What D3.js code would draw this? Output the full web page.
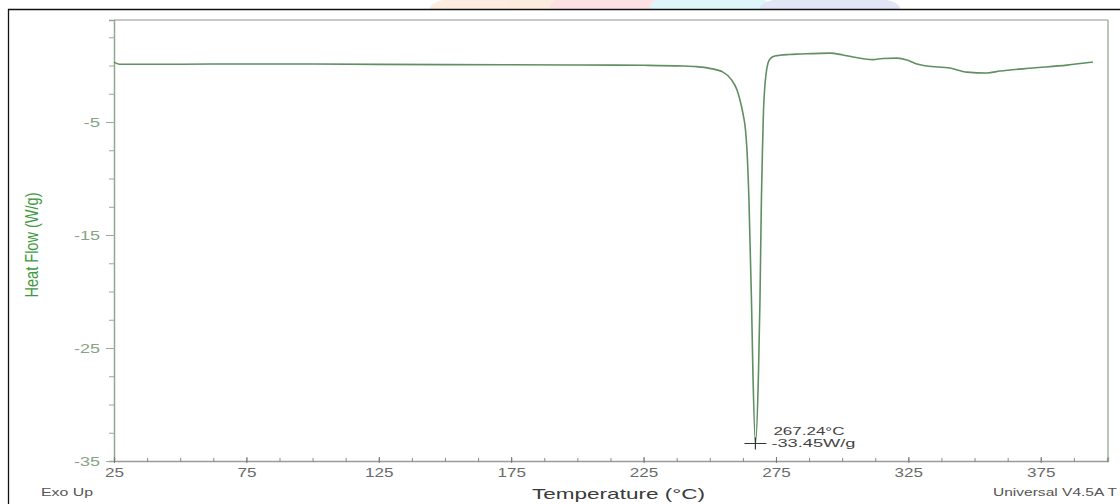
<!DOCTYPE html>
<html>
<head>
<meta charset="utf-8">
<script src="https://cdn.jsdelivr.net/npm/d3@7"></script>
<style>
  html, body { margin: 0; padding: 0; background: #fff; }
  svg { display: block; }
  text { font-family: "Liberation Sans", Arial, sans-serif; }
</style>
</head>
<body>
<svg id="chart" width="1120" height="504"></svg>
<script>
// DSC scan: temperature (°C) and heat flow (W/g)
const temperature = [25, 27, 50, 75, 100, 125, 150, 175, 200, 225, 240, 245, 250, 255, 258, 260.3, 261.4, 262.5, 263.5, 264.05, 264.8, 265.75, 266.3, 267.24, 268.4, 268.96, 269.5, 269.9, 270.3, 270.7, 271.2, 272, 273.1, 274.6, 280, 284, 295.4, 300.3, 304.1, 308, 311.6, 315.4, 320.7, 324.5, 328.2, 332, 340.7, 347.1, 354.7, 359.6, 372.1, 384.9, 394.7];
const heatFlow    = [0.3, 0.12, 0.12, 0.14, 0.13, 0.1, 0.08, 0.07, 0.05, 0.02, -0.04, -0.1, -0.25, -0.58, -1.2, -2.17, -3.05, -4.2, -5.71, -7.48, -11.9, -20.75, -27.2, -33.45, -27.2, -20.75, -11.9, -7.48, -3.94, -2.17, -0.84, 0.22, 0.66, 0.84, 0.98, 1.02, 1.1, 0.93, 0.75, 0.6, 0.52, 0.62, 0.66, 0.49, 0.13, -0.04, -0.22, -0.58, -0.66, -0.49, -0.22, 0.04, 0.31];

const xMajorTicks = [25, 75, 125, 175, 225, 275, 325, 375];
const yMajorTicks = [-35, -25, -15, -5];
const peak = { t: 267.24, v: -33.45, tLabel: "267.24°C", vLabel: "-33.45W/g" };

const svg = d3.select("#chart");
const W = 1120, H = 504;
const plot = { left: 114, right: 1108, top: 20, bottom: 461 };

const x = d3.scaleLinear().domain([25, 400.4]).range([plot.left, plot.right]);
const y = d3.scaleLinear().domain([-35, 4.03]).range([plot.bottom, plot.top]);
const plain = d => String(d);

// faint page background marks above the frame
const wm = svg.append("g").attr("opacity", 0.2);
wm.append("ellipse").attr("cx", 500).attr("cy", 8).attr("rx", 70).attr("ry", 14).attr("fill", "#f5a25d");
wm.append("ellipse").attr("cx", 610).attr("cy", 6).attr("rx", 60).attr("ry", 14).attr("fill", "#f26b7a");
wm.append("ellipse").attr("cx", 710).attr("cy", 6).attr("rx", 60).attr("ry", 14).attr("fill", "#5fd3e6");
wm.append("ellipse").attr("cx", 830).attr("cy", 8).attr("rx", 70).attr("ry", 14).attr("fill", "#6f7fd0");
svg.append("rect").attr("x", 0).attr("y", 9).attr("width", W).attr("height", H).attr("fill", "#fff");

// outer frame
svg.append("line").attr("x1", 8).attr("x2", W).attr("y1", 9.5).attr("y2", 9.5).attr("stroke", "#111").attr("stroke-width", 1.3);
svg.append("line").attr("x1", 8.5).attr("x2", 8.5).attr("y1", 9).attr("y2", H).attr("stroke", "#111").attr("stroke-width", 1.3);

// plot box: top and right edges
svg.append("line").attr("x1", plot.left).attr("x2", plot.right).attr("y1", plot.top).attr("y2", plot.top)
  .attr("stroke", "#c8c8c8").attr("stroke-width", 2);
svg.append("line").attr("x1", plot.right).attr("x2", plot.right).attr("y1", plot.top).attr("y2", plot.bottom)
  .attr("stroke", "#9bb89b").attr("stroke-width", 1.5);

// y axis
const yMinor = d3.range(-35, 4, 2.5);
const gy = svg.append("g").attr("transform", `translate(${plot.left},0)`)
  .call(d3.axisLeft(y).tickValues(yMinor).tickSize(5).tickFormat(() => ""));
gy.select(".domain").attr("stroke", "#8fa88f").attr("stroke-width", 1.5);
gy.selectAll(".tick line").attr("stroke", "#9aa89a");
const gyMajor = svg.append("g").attr("transform", `translate(${plot.left},0)`)
  .call(d3.axisLeft(y).tickValues(yMajorTicks).tickSize(8).tickPadding(6).tickFormat(plain));
gyMajor.select(".domain").remove();
gyMajor.selectAll(".tick line").attr("stroke", "#9aa89a");
gyMajor.selectAll(".tick text")
  .attr("fill", "#86a486").attr("font-size", 12.5)
  .attr("textLength", d => 7 + 9.5 * String(Math.abs(d)).length).attr("lengthAdjust", "spacingAndGlyphs")
  .style("font-family", "'Liberation Sans', Arial, sans-serif");

// x axis
const xMinor = d3.range(25, 400.5, 12.5);
const gx = svg.append("g").attr("transform", `translate(0,${plot.bottom})`)
  .call(d3.axisBottom(x).tickValues(xMinor).tickSize(-4).tickFormat(() => ""));
gx.select(".domain").attr("stroke", "#9a9a9a").attr("stroke-width", 1.3);
gx.selectAll(".tick line").attr("stroke", "#888").attr("transform", "translate(0,1)");
const gxMajor = svg.append("g").attr("transform", `translate(0,${plot.bottom})`)
  .call(d3.axisBottom(x).tickValues(xMajorTicks).tickSize(-6).tickPadding(6).tickFormat(plain));
gxMajor.select(".domain").remove();
gxMajor.selectAll(".tick line").attr("stroke", "#777").attr("transform", "translate(0,2)");
gxMajor.selectAll(".tick text").attr("fill", "#6a6a6a").attr("font-size", 13).attr("dy", "0.78em")
  .attr("textLength", d => 9.5 * String(d).length).attr("lengthAdjust", "spacingAndGlyphs")
  .style("font-family", "'Liberation Sans', Arial, sans-serif");

// heat flow curve
const pts = temperature.map((t, i) => [t, heatFlow[i]]);
const line = d3.line().x(d => x(d[0])).y(d => y(d[1])).curve(d3.curveMonotoneX);
svg.append("path").datum(pts).attr("d", line)
  .attr("fill", "none").attr("stroke", "#5f8f62").attr("stroke-width", 1.6).attr("stroke-linejoin", "round");

// peak marker and labels
const px = x(peak.t), py = y(peak.v);
svg.append("line").attr("x1", px - 11).attr("x2", px + 11).attr("y1", py).attr("y2", py).attr("stroke", "#333").attr("stroke-width", 1);
svg.append("line").attr("x1", px).attr("x2", px).attr("y1", py - 6).attr("y2", py + 6).attr("stroke", "#333").attr("stroke-width", 1.2);
svg.append("text").attr("x", px + 18).attr("y", py - 8.5).attr("font-size", 11.5).attr("fill", "#444")
  .attr("textLength", 71).attr("lengthAdjust", "spacingAndGlyphs").text(peak.tLabel);
svg.append("text").attr("x", px + 16).attr("y", py + 4).attr("font-size", 11.5).attr("fill", "#444")
  .attr("textLength", 84).attr("lengthAdjust", "spacingAndGlyphs").text(peak.vLabel);

// axis titles and footer texts
svg.append("text").attr("transform", "translate(32,245) rotate(-90) scale(1,1.35)")
  .attr("text-anchor", "middle").attr("dominant-baseline", "central")
  .attr("font-size", 13).attr("fill", "#3f9a3f")
  .attr("textLength", 105).attr("lengthAdjust", "spacingAndGlyphs").text("Heat Flow (W/g)");
svg.append("text").attr("x", 532).attr("y", 499)
  .attr("font-size", 15).attr("fill", "#3a3a3a")
  .attr("textLength", 173).attr("lengthAdjust", "spacingAndGlyphs").text("Temperature (°C)");
svg.append("text").attr("x", 41).attr("y", 496).attr("font-size", 10.5).attr("fill", "#555")
  .attr("textLength", 52).attr("lengthAdjust", "spacingAndGlyphs").text("Exo Up");
svg.append("text").attr("x", 993).attr("y", 496).attr("font-size", 10.5).attr("fill", "#555")
  .attr("textLength", 124).attr("lengthAdjust", "spacingAndGlyphs").text("Universal V4.5A T");
</script>
</body>
</html>
